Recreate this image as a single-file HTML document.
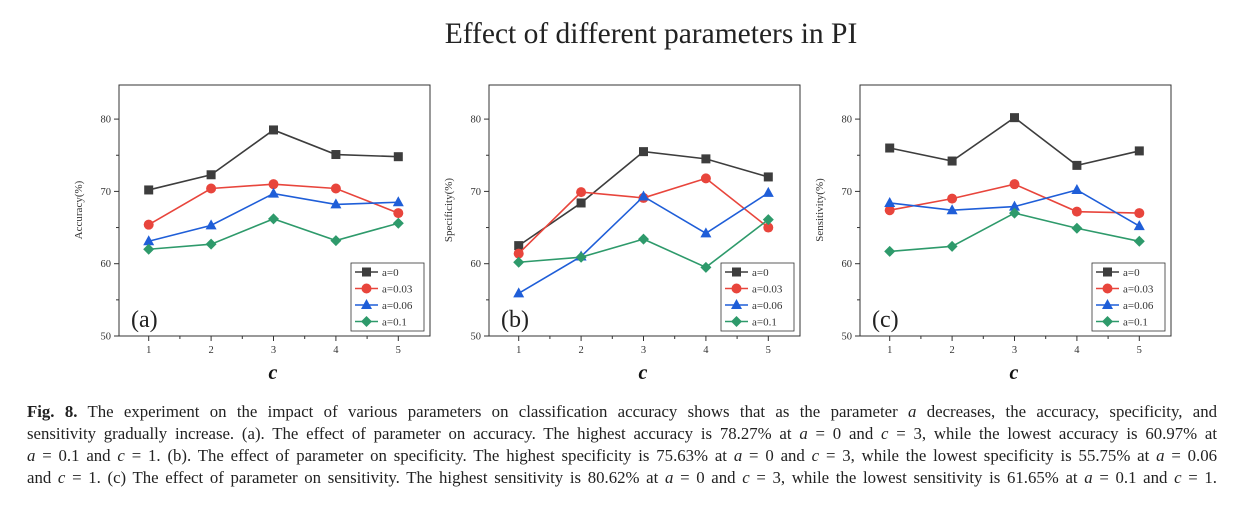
<!DOCTYPE html>
<html><head><meta charset="utf-8"><style>
body{margin:0;background:#fff;width:1240px;height:508px;overflow:hidden;font-family:"Liberation Serif",serif}
#cap{position:absolute;left:27px;top:401px;width:1190px;font-size:16.8px;line-height:22px;color:#222}
#cap div{text-align:justify;text-align-last:justify;white-space:nowrap}
#cap i{font-style:italic}
</style></head><body>
<svg id="chart" width="1240" height="400" style="position:absolute;left:0;top:0" font-family="Liberation Serif, serif">
<text x="651" y="43" font-size="29.5" text-anchor="middle" fill="#222">Effect of different parameters in PI</text>
</svg>
<div id="cap">
<div><b>Fig. 8.</b> The experiment on the impact of various parameters on classification accuracy shows that as the parameter <i>a</i> decreases, the accuracy, specificity, and</div>
<div>sensitivity gradually increase. (a). The effect of parameter on accuracy. The highest accuracy is 78.27% at <i>a</i> = 0 and <i>c</i> = 3, while the lowest accuracy is 60.97% at</div>
<div><i>a</i> = 0.1 and <i>c</i> = 1. (b). The effect of parameter on specificity. The highest specificity is 75.63% at <i>a</i> = 0 and <i>c</i> = 3, while the lowest specificity is 55.75% at <i>a</i> = 0.06</div>
<div>and <i>c</i> = 1. (c) The effect of parameter on sensitivity. The highest sensitivity is 80.62% at <i>a</i> = 0 and <i>c</i> = 3, while the lowest sensitivity is 61.65% at <i>a</i> = 0.1 and <i>c</i> = 1.</div>
</div>
<script>
const categories = [1,2,3,4,5];
const seriesNames = ["a=0","a=0.03","a=0.06","a=0.1"];
const yTicks = [50,60,70,80];
const accA0 = [70.2,72.3,78.5,75.1,74.8];
const accA003 = [65.4,70.4,71.0,70.4,67.0];
const accA006 = [63.1,65.3,69.7,68.2,68.5];
const accA01 = [62.0,62.7,66.2,63.2,65.6];
const speA0 = [62.5,68.4,75.5,74.5,72.0];
const speA003 = [61.4,69.9,69.1,71.8,65.0];
const speA006 = [55.9,61.0,69.3,64.2,69.8];
const speA01 = [60.2,60.9,63.4,59.5,66.1];
const senA0 = [76.0,74.2,80.2,73.6,75.6];
const senA003 = [67.4,69.0,71.0,67.2,67.0];
const senA006 = [68.4,67.4,67.9,70.2,65.2];
const senA01 = [61.7,62.4,67.0,64.9,63.1];

const colors=["#3d3d3d","#e8453c","#1f5ed8","#2e9a6b"];
const markers=["square","circle","triangle","diamond"];
const NS="http://www.w3.org/2000/svg";
const svg=document.getElementById('chart');
function mk(tag,attrs,parent){const e=document.createElementNS(NS,tag);for(const k in attrs)e.setAttribute(k,attrs[k]);(parent||svg).appendChild(e);return e;}
function marker(g,type,x,y,c){
  if(type==="square") return mk('rect',{x:x-4.5,y:y-4.5,width:9,height:9,fill:c},g);
  if(type==="circle") return mk('circle',{cx:x,cy:y,r:5,fill:c},g);
  if(type==="triangle") return mk('polygon',{points:`${x},${y-6} ${x+5.5},${y+4} ${x-5.5},${y+4}`,fill:c},g);
  return mk('polygon',{points:`${x},${y-5.5} ${x+5.5},${y} ${x},${y+5.5} ${x-5.5},${y}`,fill:c},g);
}
function panel(name,left,yTitle,label,data){
  const top=85,bottom=336,w=311;
  const g=mk('g',{});
  
  
  const xS=v=>left+29.7+(v-1)*62.4;
  const yS=v=>bottom-(v-50)*7.23;
  const frame=mk('rect',{x:left,y:top,width:w,height:bottom-top,fill:'none',stroke:'#333','stroke-width':1},g);
  
  
  yTicks.forEach(t=>{
    mk('line',{x1:left-5,x2:left,y1:yS(t),y2:yS(t),stroke:'#333'},g);
    const tx=mk('text',{x:left-8,y:yS(t)+3.5,'font-size':10.5,'text-anchor':'end',fill:'#333'},g);
    tx.textContent=t;
    
    
    if(t<80) mk('line',{x1:left-3,x2:left,y1:yS(t+5),y2:yS(t+5),stroke:'#333'},g);
  });
  categories.forEach((c,i)=>{
    mk('line',{x1:xS(c),x2:xS(c),y1:bottom,y2:bottom+5,stroke:'#333'},g);
    const tx=mk('text',{x:xS(c),y:bottom+17,'font-size':10.5,'text-anchor':'middle',fill:'#333'},g);
    tx.textContent=c;
    
    
    if(i<categories.length-1) mk('line',{x1:xS(c+0.5),x2:xS(c+0.5),y1:bottom,y2:bottom+3,stroke:'#333'},g);
  });
  const xt=mk('text',{x:left+154,y:379,'font-size':20,'font-weight':'bold','font-style':'italic','text-anchor':'middle',fill:'#111'},g);
  xt.textContent='c';
  
  
  const yt=mk('text',{x:0,y:0,'font-size':11,'text-anchor':'middle',fill:'#333',transform:`translate(${left-37},210) rotate(-90)`},g);
  yt.textContent=yTitle;
  
  
  data.forEach((vals,si)=>{
    const pts=vals.map((v,i)=>xS(categories[i])+','+yS(v)).join(' ');
    const pl=mk('polyline',{points:pts,fill:'none',stroke:colors[si],'stroke-width':1.6},g);
    
    
    vals.forEach((v,i)=>{
      const m=marker(g,markers[si],xS(categories[i]),yS(v),colors[si]);
      
      
    });
  });
  const lx=left+232,ly=263;
  const lb=mk('rect',{x:lx,y:ly,width:73,height:68,fill:'#fff',stroke:'#333','stroke-width':0.8},g);
  
  
  seriesNames.forEach((s,si)=>{
    const y=ly+9+si*16.5;
    mk('line',{x1:lx+4,x2:lx+27,y1:y,y2:y,stroke:colors[si],'stroke-width':1.6},g);
    marker(g,markers[si],lx+15.5,y,colors[si]);
    const t=mk('text',{x:lx+31,y:y+4,'font-size':11,fill:'#333'},g);
    t.textContent=s;
    
    
  });
  const pl=mk('text',{x:left+12,y:327,'font-size':24,fill:'#222'},g);
  pl.textContent=label;
  
  
}
panel('accuracy',119,'Accuracy(%)','(a)',[accA0,accA003,accA006,accA01]);
panel('specificity',489,'Specificity(%)','(b)',[speA0,speA003,speA006,speA01]);
panel('sensitivity',860,'Sensitivity(%)','(c)',[senA0,senA003,senA006,senA01]);
</script>
</body></html>
